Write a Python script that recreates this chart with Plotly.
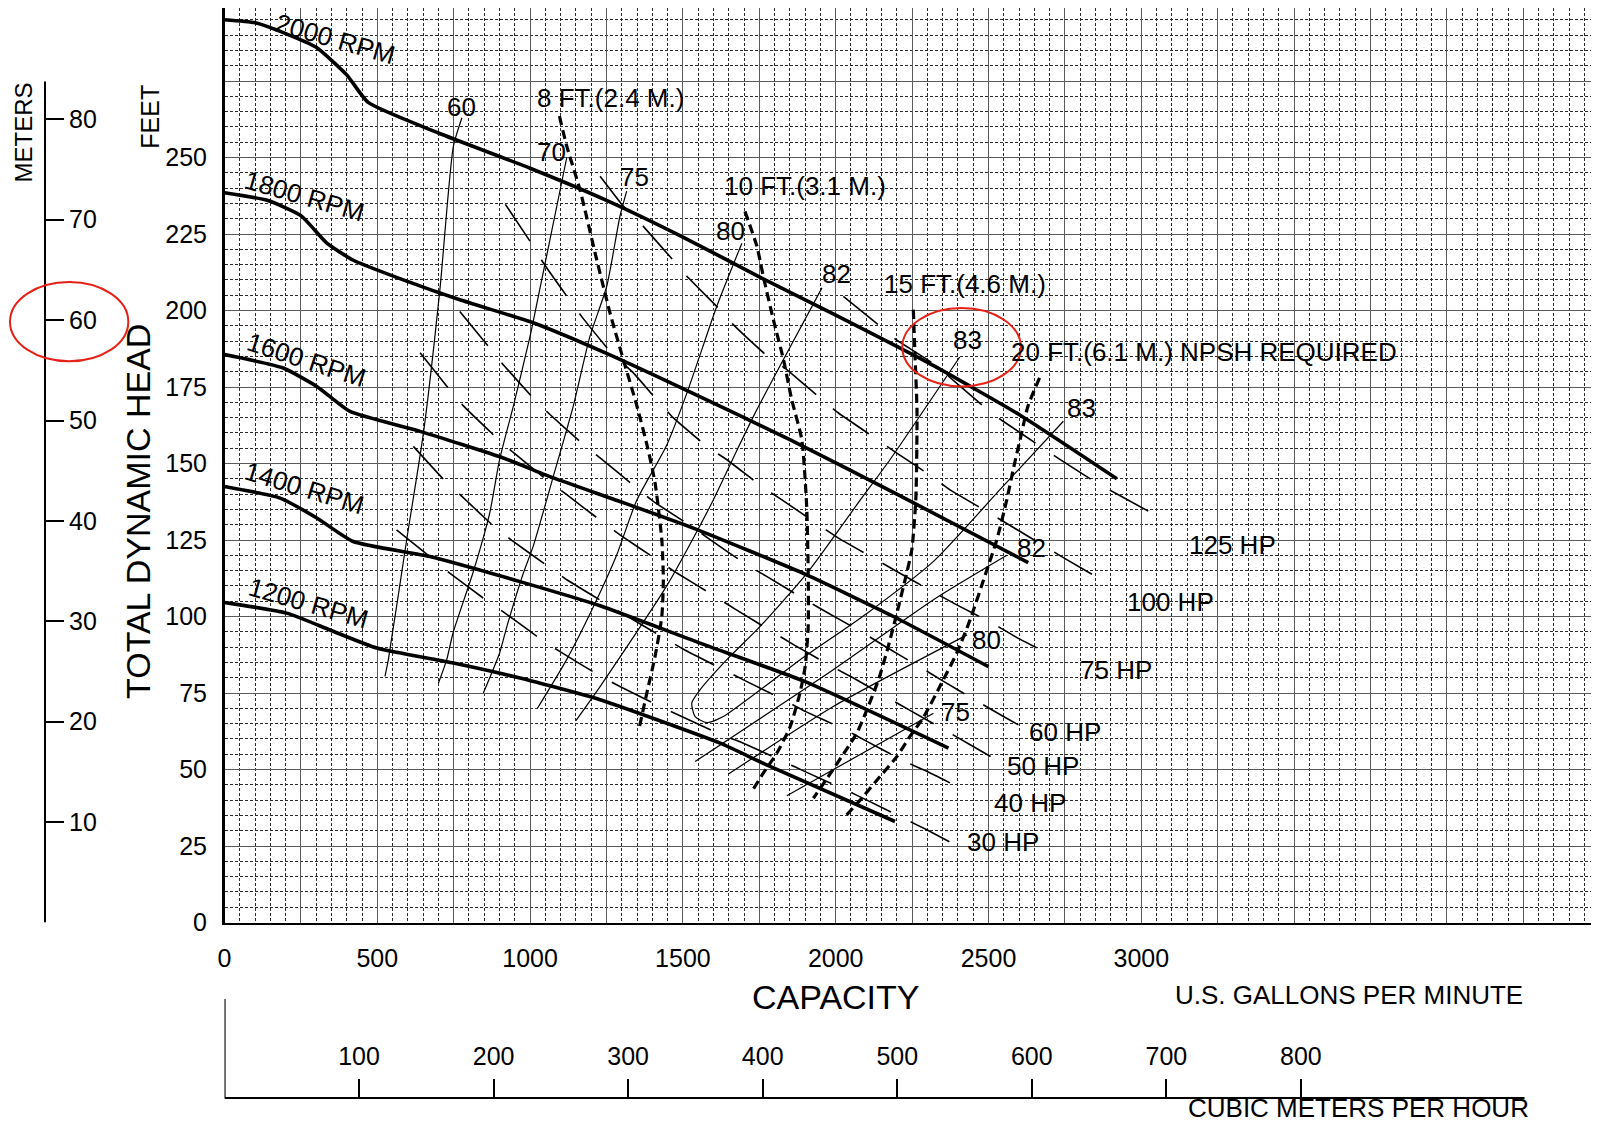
import plotly.graph_objects as go

# ---------------- data (capacity in US GPM, head in feet) ----------------
rpm_names = ["2000 RPM", "1800 RPM", "1600 RPM", "1400 RPM", "1200 RPM"]
rpm2000_q = [0, 100, 200, 300, 400, 470, 700, 1000, 1250, 1500, 1750, 2000, 2320, 2600, 2920]
rpm2000_h = [295, 294, 290.5, 286, 277, 268, 258, 246.5, 236, 224, 211, 198.5, 182, 166, 145]
rpm1800_q = [0, 140, 250, 335, 420, 585, 770, 1010, 1250, 1500, 1850, 2200, 2630]
rpm1800_h = [238.5, 236, 231, 222, 216.5, 210, 203.5, 196, 186, 174.5, 157.8, 140, 117.6]
rpm1600_q = [0, 192, 302, 411, 640, 912, 1076, 1294, 1534, 1905, 2189, 2500]
rpm1600_h = [185.6, 181.2, 175.2, 167, 160.5, 151.8, 145.3, 137.6, 128.9, 113.6, 100, 83.6]
rpm1400_q = [0, 182, 302, 421, 672, 967, 1229, 1556, 1900, 2369]
rpm1400_h = [142.5, 138.7, 132.2, 124.5, 119.6, 111.4, 103.5, 91.3, 78.7, 57]
rpm1200_q = [0, 204, 345, 498, 749, 967, 1229, 1622, 1774, 2194]
rpm1200_h = [104.6, 101.1, 95.6, 89.7, 84.8, 79.9, 72.8, 58.6, 51.5, 33]
rpm_label_q = [363, 261, 269, 261, 274]
rpm_label_h = [288.8, 237.3, 183.7, 142, 104.4]
rpm_label_angle = [16, 16, 18, 17, 16]

# efficiency lines
eff60_q = [777, 749, 705, 651, 596, 536, 525]
eff60_h = [263, 253.7, 207, 160, 125, 85.8, 80.4]
eff70_q = [1120, 1038, 1000, 945, 900, 868, 813, 748, 727, 700]
eff70_h = [250, 210, 191.6, 168.7, 151.2, 133.9, 114.3, 94.7, 85.8, 78.2]
eff75_q = [1316, 1294, 1251, 1196, 1141, 1076, 1010, 978, 924, 900, 847]
eff75_h = [239, 230.8, 208, 191.6, 168.7, 145.8, 122.9, 114.2, 96.7, 88, 75]
eff80_q = [1693, 1611, 1513, 1447, 1349, 1283, 1218, 1120, 1024]
eff80_h = [222, 201.4, 173, 156, 138, 120, 105.5, 86, 70]
eff82_q = [1955, 1829, 1742, 1680, 1589, 1447, 1229, 1150]
eff82_h = [207.4, 184, 167.6, 155, 136, 110, 77.1, 66]
eff83_q = [2406, 2178, 2080, 1905, 1752, 1643, 1556, 1529, 1540, 1578, 1632, 1883, 2102, 2320, 2539, 2745]
eff83_h = [184.8, 151.3, 138, 114, 96.7, 85.8, 76, 71.7, 67.3, 65.3, 67.3, 85.8, 101, 118, 141.6, 163.8]
eff82r_q = [2560, 2320, 1992, 1540]
eff82r_h = [120, 105.5, 82.6, 52.6]
eff80r_q = [2430, 1992, 1649]
eff80r_h = [94, 70.6, 48.5]
eff75r_q = [2320, 1840]
eff75r_h = [68.4, 41.4]
eff_label_text = ["60", "70", "75", "80", "82", "83", "83", "82", "80", "75"]
eff_label_q = [776, 1071, 1343, 1657, 2001, 2430, 2805, 2642, 2494, 2391]
eff_label_h = [266.6, 251.8, 243.6, 225.9, 212, 190.4, 168.1, 122.4, 92.4, 68.9]

# NPSH required lines
npsh8_q = [1096, 1120, 1163, 1218, 1262, 1305, 1349, 1385, 1409, 1431, 1436, 1431, 1409, 1382, 1358]
npsh8_h = [263.5, 253.7, 239.5, 216.6, 199, 184, 169, 155, 143.6, 125, 112, 100, 87, 75, 64]
npsh10_q = [1703, 1742, 1763, 1796, 1829, 1856, 1889, 1905, 1910, 1910, 1900, 1883, 1851, 1807, 1763, 1728]
npsh10_h = [232.4, 221, 211.2, 197, 184, 170.9, 157.8, 136, 114.2, 96.7, 83.6, 75, 64, 55.3, 48.8, 43.2]
npsh15_q = [2254, 2260, 2266, 2265, 2262, 2249, 2227, 2200, 2172, 2140, 2102, 2069, 1927]
npsh15_h = [200.3, 184, 167.6, 151.2, 138, 121.8, 112, 101, 90.2, 79.3, 69.5, 61.9, 40.6]
npsh20_q = [2667, 2629, 2606, 2583, 2560, 2527, 2494, 2440, 2396, 2352, 2287, 2243, 2200, 2145, 2080, 2025]
npsh20_h = [178, 168.7, 158.9, 149, 138.2, 125, 115, 99, 88, 79.3, 67, 60.8, 54.2, 47.7, 40, 34]
npsh_label_text = ["8 FT.(2.4 M.)", "10 FT.(3.1 M.)", "15 FT.(4.6 M.)", "20 FT.(6.1 M.) NPSH REQUIRED"]
npsh_label_q = [1017, 1627, 2151, 2566]
npsh_label_h = [269.6, 240.6, 208.8, 186.6]

# horsepower lines
hp30_q = [563, 672, 737, 858, 918, 1038, 1098, 1229, 1294, 1425, 1496, 1627, 1698, 1829, 1900, 2031, 2102, 2233, 2298, 2402]
hp30_h = [128.3, 119.6, 114.2, 105.2, 101.1, 92.4, 88.5, 80.6, 77.1, 70.6, 67.3, 61.3, 58.6, 52.6, 49.3, 43.4, 40, 33.5, 30.3, 24.8]
hp40_q = [618, 716, 770, 879, 940, 1060, 1120, 1245, 1502, 1633, 1698, 1829, 1900, 2031, 2102, 2227, 2298, 2430]
hp40_h = [155.6, 144.9, 139.9, 129.7, 124.9, 116.3, 112, 104.4, 89.3, 82.6, 79.3, 72.8, 69, 63, 59.2, 52.6, 49.4, 42.8]
hp50_q = [640, 732, 781, 885, 945, 1054, 1120, 1234, 1294, 1414, 1480, 1605, 1671, 1796, 1862, 1987, 2058, 2178, 2249, 2374, 2440, 2522]
hp50_h = [186.2, 174.7, 168.9, 158.9, 153.6, 144.7, 139.8, 131.1, 126.7, 118.6, 114.2, 106.6, 102.4, 94.8, 90.8, 83.7, 79.9, 73, 69, 61.9, 58.1, 53.4]
hp60_q = [770, 863, 912, 1010, 1065, 1169, 1229, 1343, 1403, 1529, 1589, 1709, 1774, 1900, 1965, 2091, 2162, 2282, 2353, 2473, 2549, 2598]
hp60_h = [199.7, 188.3, 182.3, 171.4, 166, 156.7, 151.8, 142.5, 137.6, 129.4, 125.1, 116.9, 113.1, 105.5, 101.7, 94.6, 90.2, 83.1, 78.8, 71.7, 67.3, 64.6]
hp75_q = [919, 1000, 1043, 1120, 1169, 1262, 1338, 1414, 1469, 1578, 1643, 1758, 1823, 1943, 2009, 2132, 2200, 2325, 2396, 2522, 2593, 2720]
hp75_h = [234.7, 222.6, 215.6, 204.7, 198, 186.6, 179.6, 170.9, 164.9, 155.6, 151.3, 142.5, 138.2, 130, 125.6, 118.6, 114.7, 107.7, 103.8, 97.3, 93.1, 86.6]
hp100_q = [1229, 1305, 1365, 1464, 1513, 1616, 1665, 1775, 1840, 1949, 2009, 2129, 2200, 2314, 2374, 2500, 2756, 2885]
hp100_h = [243.9, 234.1, 228.1, 216.9, 211.2, 200.8, 195.4, 185.2, 180.7, 171.4, 166.5, 158.3, 153.4, 145.8, 141.4, 134, 118.6, 111.1]
hp125_q = [2025, 2139, 2200, 2320, 2490, 2548, 2679, 2736, 2856, 2925, 3056]
hp125_h = [204.6, 195.4, 190.3, 182.6, 168.2, 163.8, 155, 151.2, 143.5, 139.8, 132.6]
hp_label_text = ["30 HP", "40 HP", "50 HP", "60 HP", "75 HP", "100 HP", "125 HP"]
hp_label_q = [2423, 2511, 2554, 2625, 2794, 2947, 3149]
hp_label_h = [26.4, 39, 51.2, 62.4, 82.6, 104.6, 123.4]

# axes
gpm_ticks = list(range(0, 4251, 250))
gpm_labels = [str(v) if (v % 500 == 0 and v <= 3000) else "" for v in gpm_ticks]
feet_ticks = list(range(0, 276, 25))
feet_labels = [str(v) if v <= 250 else "" for v in feet_ticks]
meter_ticks = [10, 20, 30, 40, 50, 60, 70, 80]
m3h_ticks = [100, 200, 300, 400, 500, 600, 700, 800]
FT_PER_M = 3.28084
GPM_PER_M3H = 4.40287

# ---------------- page geometry ----------------
# The browser keeps its default 8 px body margin, so the figure is 16 px smaller
# than the window and every page position is shifted by that margin.
PAGE_W, PAGE_H, OFF = 1599, 1133, 8
W, H = PAGE_W - 2 * OFF, PAGE_H - 2 * OFF
def px(X):
    return (X - OFF) / W
def py(Y):
    return 1 - (Y - OFF) / H

PX_PER_GPM = 76.4 / 250
PX_PER_FT = 76.5 / 25
PLOT_LEFT, PLOT_BOTTOM = 224.5, 922.5
x_dom = [px(PLOT_LEFT), 1.0]
y_dom = [py(PLOT_BOTTOM), 1.0]
X_MAX = (W - (PLOT_LEFT - OFF)) / PX_PER_GPM
Y_MAX = (PLOT_BOTTOM - OFF) / PX_PER_FT
FONT = "Liberation Sans, Arial, Helvetica, sans-serif"

fig = go.Figure()

def add_line(q, h, width, dash="solid", shape="spline", smoothing=0.5):
    fig.add_trace(go.Scatter(x=q, y=h, mode="lines", hoverinfo="skip",
                             line=dict(color="black", width=width, dash=dash,
                                       shape=shape, smoothing=smoothing),
                             showlegend=False))

for q, h in [(hp30_q, hp30_h), (hp40_q, hp40_h), (hp50_q, hp50_h), (hp60_q, hp60_h),
             (hp75_q, hp75_h), (hp100_q, hp100_h), (hp125_q, hp125_h)]:
    add_line(q, h, 1.6, dash="44px,22px", smoothing=0.3)

for q, h in [(eff60_q, eff60_h), (eff70_q, eff70_h), (eff75_q, eff75_h), (eff80_q, eff80_h),
             (eff82_q, eff82_h), (eff83_q, eff83_h), (eff82r_q, eff82r_h),
             (eff80r_q, eff80r_h), (eff75r_q, eff75r_h)]:
    add_line(q, h, 1.2, smoothing=0.6)

for q, h in [(npsh8_q, npsh8_h), (npsh10_q, npsh10_h), (npsh15_q, npsh15_h), (npsh20_q, npsh20_h)]:
    add_line(q, h, 3.2, dash="9px,5px", smoothing=0.6)

for q, h in [(rpm2000_q, rpm2000_h), (rpm1800_q, rpm1800_h), (rpm1600_q, rpm1600_h),
             (rpm1400_q, rpm1400_h), (rpm1200_q, rpm1200_h)]:
    add_line(q, h, 3.6, smoothing=0.5)

# invisible anchors so that the metric axes are drawn
fig.add_trace(go.Scatter(x=[0], y=[0], xaxis="x", yaxis="y2", mode="markers",
                         marker=dict(opacity=0, size=1), hoverinfo="skip", showlegend=False))
fig.add_trace(go.Scatter(x=[0], y=[0], xaxis="x2", yaxis="y", mode="markers",
                         marker=dict(opacity=0, size=1), hoverinfo="skip", showlegend=False))

ann = []
for t, q, h, a in zip(rpm_names, rpm_label_q, rpm_label_h, rpm_label_angle):
    ann.append(dict(x=q, y=h, xref="x", yref="y", text=t, showarrow=False, textangle=a,
                    xanchor="center", yanchor="middle", font=dict(size=26)))
for t, q, h in zip(eff_label_text, eff_label_q, eff_label_h):
    ann.append(dict(x=q, y=h, xref="x", yref="y", text=t, showarrow=False,
                    xanchor="center", yanchor="middle", font=dict(size=26)))
for t, q, h in zip(npsh_label_text, npsh_label_q, npsh_label_h):
    ann.append(dict(x=q, y=h, xref="x", yref="y", text=t, showarrow=False,
                    xanchor="left", yanchor="middle", font=dict(size=26)))
for t, q, h in zip(hp_label_text, hp_label_q, hp_label_h):
    ann.append(dict(x=q, y=h, xref="x", yref="y", text=t, showarrow=False,
                    xanchor="left", yanchor="middle", font=dict(size=26)))

ann += [
    dict(x=px(23), y=py(132.5), xref="paper", yref="paper", text="METERS", textangle=-90,
         showarrow=False, xanchor="center", yanchor="middle", font=dict(size=24)),
    dict(x=px(150), y=py(116.7), xref="paper", yref="paper", text="FEET", textangle=-90,
         showarrow=False, xanchor="center", yanchor="middle", font=dict(size=25)),
    dict(x=px(138.5), y=py(511.4), xref="paper", yref="paper", text="TOTAL DYNAMIC HEAD",
         textangle=-90, showarrow=False, xanchor="center", yanchor="middle", font=dict(size=34)),
    dict(x=2001, y=py(997.3), xref="x", yref="paper", text="CAPACITY",
         showarrow=False, xanchor="center", yanchor="middle", font=dict(size=34)),
    dict(x=3680, y=py(995), xref="x", yref="paper", text="U.S. GALLONS PER MINUTE",
         showarrow=False, xanchor="center", yanchor="middle", font=dict(size=26)),
    dict(x=3711, y=py(1108), xref="x", yref="paper", text="CUBIC METERS PER HOUR",
         showarrow=False, xanchor="center", yanchor="middle", font=dict(size=26)),
]

m3h_axis_y = py(1098)
shapes = [
    dict(type="line", xref="paper", yref="y", x0=px(45), x1=px(45), y0=0, y1=274.8,
         line=dict(color="black", width=2)),
    dict(type="line", xref="x", yref="paper", x0=0, x1=4254, y0=m3h_axis_y, y1=m3h_axis_y,
         line=dict(color="black", width=2.2)),
    dict(type="line", xref="x", yref="paper", x0=0, x1=0, y0=m3h_axis_y, y1=py(999),
         line=dict(color="black", width=2.2)),
    dict(type="circle", xref="paper", yref="y", x0=px(10), x1=px(128.3), y0=183.4, y1=209.3,
         line=dict(color="#e62117", width=2)),
    dict(type="circle", xref="x", yref="y", x0=2218, x1=2606, y0=175.2, y1=200.8,
         line=dict(color="#e62117", width=2)),
]

minor_x = [v for v in range(0, int(X_MAX) + 1, 50) if v % 250 != 0]
minor_y = [v for v in range(0, int(Y_MAX) + 1, 5) if v % 25 != 0]

fig.update_layout(
    template="none",
    width=W, height=H, margin=dict(l=0, r=0, t=0, b=0, pad=0, autoexpand=False),
    paper_bgcolor="white", plot_bgcolor="rgba(0,0,0,0)",
    font=dict(family=FONT, size=25, color="black"),
    showlegend=False, annotations=ann, shapes=shapes,
    xaxis=dict(domain=x_dom, range=[0, X_MAX], tickmode="array", tickvals=gpm_ticks,
               ticktext=gpm_labels, ticks="", ticklabelstandoff=12, automargin=False,
               showgrid=True, gridcolor="#5a5a5a", gridwidth=1,
               minor=dict(tickmode="array", tickvals=minor_x, showgrid=True,
                          gridcolor="#2a2a2a", gridwidth=1, griddash="3px,2px", ticks=""),
               showline=True, linecolor="black", linewidth=2.5, zeroline=False,
               fixedrange=True, tickfont=dict(size=25)),
    yaxis=dict(domain=y_dom, range=[0, Y_MAX], tickmode="array", tickvals=feet_ticks,
               ticktext=feet_labels, ticks="", ticklabelstandoff=10, automargin=False,
               showgrid=True, gridcolor="#5a5a5a", gridwidth=1,
               minor=dict(tickmode="array", tickvals=minor_y, showgrid=True,
                          gridcolor="#2a2a2a", gridwidth=1, griddash="3px,2px", ticks=""),
               showline=True, linecolor="black", linewidth=2.5, zeroline=False,
               fixedrange=True, tickfont=dict(size=25)),
    yaxis2=dict(overlaying="y", anchor="free", position=px(45), side="right",
                range=[0, Y_MAX / FT_PER_M], tickmode="array", tickvals=meter_ticks,
                ticks="outside", ticklen=18, tickwidth=2, tickcolor="black", automargin=False,
                ticklabelstandoff=0, showgrid=False, zeroline=False, showline=False,
                fixedrange=True, tickfont=dict(size=25)),
    xaxis2=dict(overlaying="x", anchor="free", position=m3h_axis_y, side="top",
                range=[0, X_MAX / GPM_PER_M3H], tickmode="array", tickvals=m3h_ticks,
                ticks="outside", ticklen=19, tickwidth=2.2, tickcolor="black", automargin=False,
                ticklabelstandoff=4, showgrid=False, zeroline=False, showline=False,
                fixedrange=True, tickfont=dict(size=25)),
)

fig.write_html("out.html", config={"displayModeBar": False, "staticPlot": True})
